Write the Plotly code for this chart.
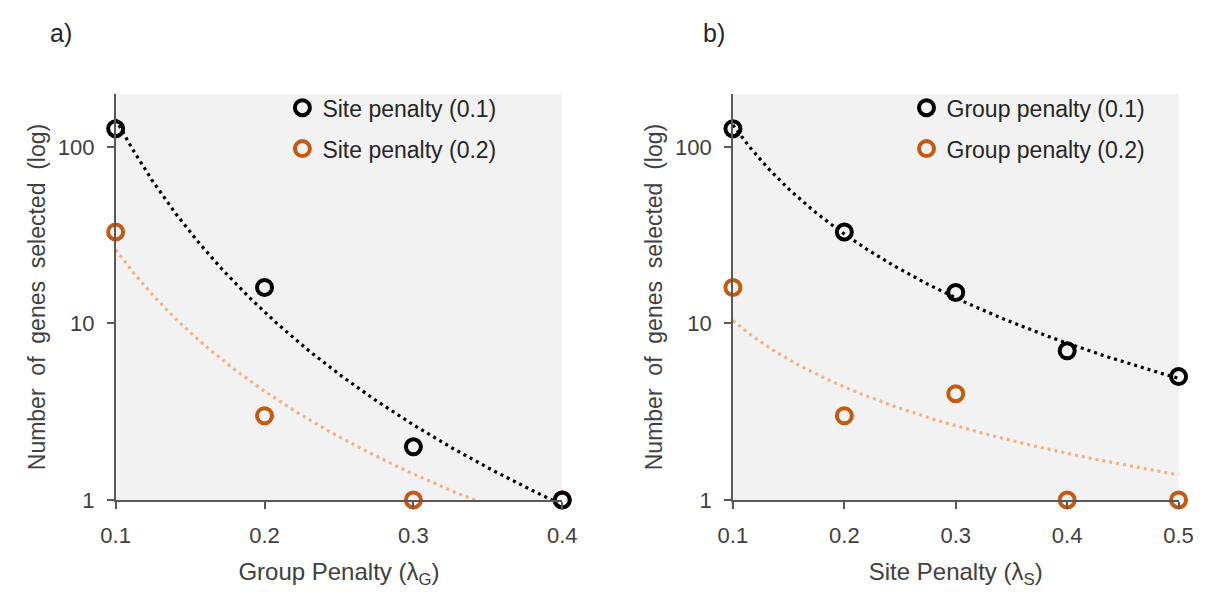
import numpy as np
import plotly.graph_objects as go

# ---------------- data ----------------
# Panel a) : x = group penalty
a_x = [0.1, 0.2, 0.3, 0.4]
a_site01 = [127, 16, 2, 1]
a_site02 = [33, 3, 1, 1]
a_names = ["Site penalty (0.1)", "Site penalty (0.2)"]

# Panel b) : x = site penalty
b_x = [0.1, 0.2, 0.3, 0.4, 0.5]
b_group01 = [127, 33, 15, 7, 5]
b_group02 = [16, 3, 4, 1, 1]
b_names = ["Group penalty (0.1)", "Group penalty (0.2)"]

# power trendlines y = c * x^k (coefficients)
a_trend_c = [0.0337, 0.0567]
a_trend_k = [-3.63, -2.665]
b_trend_c = [1.177, 0.584]
b_trend_k = [-2.054, -1.25]

x_ticks_a = [0.1, 0.2, 0.3, 0.4]
x_ticks_b = [0.1, 0.2, 0.3, 0.4, 0.5]
y_ticks = [1, 10, 100]

# ---------------- style ----------------
FONT = "Liberation Sans, Arial, sans-serif"
TXT = "#404040"
AX = "#595959"
BLACK = "#000000"
ORANGE = "#C55A11"
ORANGE_LINE = "#F4B183"
W, H = 1208, 592

fig = go.Figure()


def add_panel(xs, series, names, tc, tk, xref, yref, legend):
    line_cols = [BLACK, ORANGE_LINE]
    mk_cols = [BLACK, ORANGE]
    xx = np.linspace(min(xs), max(xs), 200)
    for c, k, col in zip(tc, tk, line_cols):
        fig.add_trace(go.Scatter(
            x=xx, y=c * xx ** k, mode="lines", xaxis=xref, yaxis=yref,
            line=dict(color=col, width=3.2, dash="3px,4px"),
            showlegend=False, hoverinfo="skip"))
    order = [1, 0]  # draw orange first, black on top
    for i in order:
        fig.add_trace(go.Scatter(
            x=xs, y=series[i], mode="markers", name=names[i],
            xaxis=xref, yaxis=yref, cliponaxis=False, legend=legend,
            legendgroup=names[i], legendrank=i + 1,
            marker=dict(symbol="circle-open", size=15,
                        line=dict(color=mk_cols[i], width=4),
                        color=mk_cols[i])))


add_panel(a_x, [a_site01, a_site02], a_names, a_trend_c, a_trend_k,
          "x", "y", "legend")
add_panel(b_x, [b_group01, b_group02], b_names, b_trend_c, b_trend_k,
          "x2", "y2", "legend2")

ydom = [(H - 503) / H, (H - 88) / H]
common_axis = dict(showline=True, linecolor=AX, linewidth=1.5,
                   ticks="outside", ticklen=7, tickcolor=AX, tickwidth=1.5,
                   showgrid=False, zeroline=False,
                   tickfont=dict(family=FONT, size=22, color=TXT),
                   ticklabelstandoff=8)

YTITLE = "Number  of  genes  selected  (log)"
ytitle_font = dict(family=FONT, size=23, color=TXT)
xtitle_font = dict(family=FONT, size=24, color=TXT)
legend_font = dict(family=FONT, size=23, color="#262626")

fig.update_layout(
    width=W, height=H, autosize=False,
    margin=dict(l=0, r=0, t=0, b=0),
    paper_bgcolor="white", plot_bgcolor="#F2F2F2",
    font=dict(family=FONT, color=TXT),
    xaxis=dict(domain=[95 / W, 553 / W], range=[0.1, 0.4],
               tickvals=x_ticks_a, ticktext=[f"{v:.1f}" for v in x_ticks_a],
               title=dict(text="Group Penalty (λ<sub>G</sub>)",
                          font=xtitle_font, standoff=16),
               anchor="y", **common_axis),
    yaxis=dict(domain=ydom, type="log", range=[0, 2.30],
               tickvals=y_ticks, ticktext=[str(v) for v in y_ticks],
               title=dict(text=YTITLE, font=ytitle_font, standoff=6),
               anchor="x", **common_axis),
    xaxis2=dict(domain=[728 / W, 1185 / W], range=[0.1, 0.5],
                tickvals=x_ticks_b, ticktext=[f"{v:.1f}" for v in x_ticks_b],
                title=dict(text="Site Penalty (λ<sub>S</sub>)",
                           font=xtitle_font, standoff=16),
                anchor="y2", **common_axis),
    yaxis2=dict(domain=ydom, type="log", range=[0, 2.30],
                tickvals=y_ticks, ticktext=[str(v) for v in y_ticks],
                title=dict(text=YTITLE, font=ytitle_font, standoff=6),
                anchor="x2", **common_axis),
    legend=dict(x=266 / W, y=(H - 80) / H, xanchor="left", yanchor="top",
                bgcolor="rgba(0,0,0,0)", traceorder="grouped",
                tracegroupgap=8, font=legend_font),
    legend2=dict(x=906 / W, y=(H - 80) / H, xanchor="left", yanchor="top",
                 bgcolor="rgba(0,0,0,0)", traceorder="grouped",
                 tracegroupgap=8, font=legend_font),
    annotations=[
        dict(text="a)", x=26 / W, y=(H - 26) / H, xref="paper", yref="paper",
             xanchor="left", yanchor="middle", showarrow=False,
             font=dict(family=FONT, size=25, color="#262626")),
        dict(text="b)", x=695 / W, y=(H - 26) / H, xref="paper", yref="paper",
             xanchor="left", yanchor="middle", showarrow=False,
             font=dict(family=FONT, size=25, color="#262626")),
    ],
)

fig.write_html("out.html")
